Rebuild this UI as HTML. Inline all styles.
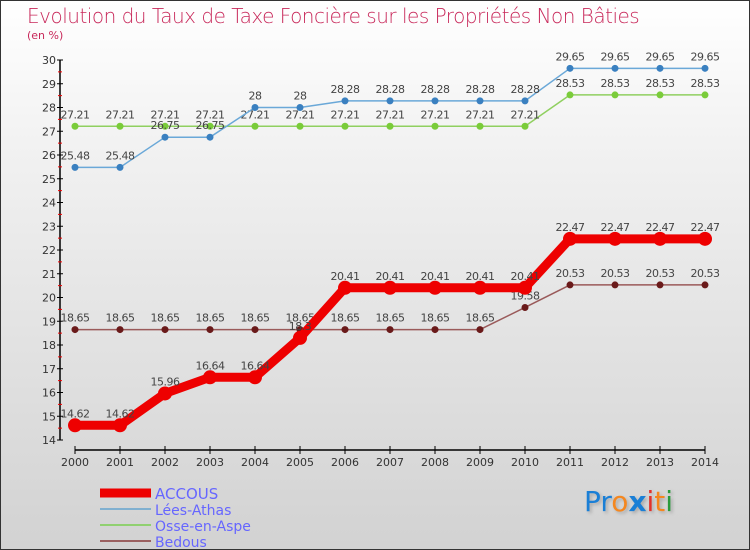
<!DOCTYPE html>
<html><head><meta charset="utf-8"><style>
body{margin:0;}
#wrap{position:relative;width:748px;height:548px;border:1px solid #333;background:linear-gradient(#fff 0%,#f0f0f0 30%,#d2d2d2 100%);font-family:"DejaVu Sans","Liberation Sans",sans-serif;overflow:hidden;}
.t{position:absolute;color:#c8285a;}
</style></head><body>
<div id="wrap">
<div class="t" style="left:26px;top:3px;font-size:20px;letter-spacing:-0.5px;font-weight:200">Evolution du Taux de Taxe Foncière sur les Propriétés Non Bâties</div>
<div class="t" style="left:26px;top:28px;font-size:11px">(en %)</div>
<svg id="svg" width="750" height="550" style="position:absolute;left:-1px;top:-1px"></svg>
<div style="position:absolute;left:583px;top:484px;font-size:28px;font-family:'DejaVu Sans',sans-serif;text-shadow:2px 2px 3px #aaa"><span style="color:#1a7fd6">Pr</span><span style="color:#f5871f">o</span><span style="color:#1a7fd6;font-weight:bold">x</span><span style="color:#e3302a">i</span><span style="color:#f5871f">t</span><span style="color:#2a9a3c">i</span></div>
</div>
<script>
const years=[2000,2001,2002,2003,2004,2005,2006,2007,2008,2009,2010,2011,2012,2013,2014];
const accous=[14.62,14.62,15.96,16.64,16.64,18.3,20.41,20.41,20.41,20.41,20.41,22.47,22.47,22.47,22.47];
const lees=[25.48,25.48,26.75,26.75,28,28,28.28,28.28,28.28,28.28,28.28,29.65,29.65,29.65,29.65];
const osse=[27.21,27.21,27.21,27.21,27.21,27.21,27.21,27.21,27.21,27.21,27.21,28.53,28.53,28.53,28.53];
const bedous=[18.65,18.65,18.65,18.65,18.65,18.65,18.65,18.65,18.65,18.65,19.58,20.53,20.53,20.53,20.53];
const yTicks=[14,15,16,17,18,19,20,21,22,23,24,25,26,27,28,29,30];
const svg=document.getElementById('svg');const NS='http://www.w3.org/2000/svg';
function X(i){return 75+i*45;}
function Y(v){return 440-(v-14)*23.75;}
function mk(t,a,p){const e=document.createElementNS(NS,t);for(const k in a)e.setAttribute(k,a[k]);(p||svg).appendChild(e);return e;}
// axes
const ya=mk('line',{x1:60,y1:Y(30),x2:60,y2:Y(14),stroke:'#000','stroke-width':1.5});


yTicks.forEach(v=>{mk('line',{x1:57,x2:63,y1:Y(v),y2:Y(v),stroke:'#000'});
const t=mk('text',{x:56,y:Y(v)+4,'text-anchor':'end','font-size':11,fill:'#333'});t.textContent=v;


if(v<30)mk('line',{x1:58,x2:62,y1:Y(v+0.5),y2:Y(v+0.5),stroke:'#e00'});});
const xa=mk('line',{x1:X(0),x2:X(14),y1:450,y2:450,stroke:'#000','stroke-width':1.5});


years.forEach((yr,i)=>{mk('line',{x1:X(i),x2:X(i),y1:446,y2:454,stroke:'#000'});
const t=mk('text',{x:X(i),y:466,'text-anchor':'middle','font-size':11,fill:'#333'});t.textContent=yr;

});
function series(data,color,lw,r,dot,name){
const g=mk('g',{});


mk('polyline',{points:data.map((v,i)=>X(i)+','+Y(v)).join(' '),fill:'none',stroke:color,'stroke-width':lw,'stroke-linejoin':'round'},g);
data.forEach((v,i)=>{const c=mk('circle',{cx:X(i),cy:Y(v),r:r,fill:dot},g);


const t=mk('text',{x:X(i),y:Y(v)-8,'text-anchor':'middle','font-size':11,fill:'#444','letter-spacing':'-0.5'},g);t.textContent=v;

});}
series(bedous,'#9a5a5a',1.5,3.5,'#6a1a1a','bedous');
series(osse,'#90d060',1.5,3.5,'#7acc3a','osse-en-aspe');
series(lees,'#6aa8d8',1.5,3.5,'#3a80c0','lees-athas');
series(accous,'#ee0000',9,7,'#ee0000','accous');
// legend
const leg=[['ACCOUS','#ee0000',9,15],['Lées-Athas','#80b0d0',2,14],['Osse-en-Aspe','#90d070',2,14],['Bedous','#9a6060',2,14]];
leg.forEach((l,i)=>{const y=493+i*16;
const g=mk('g',{});


mk('line',{x1:100,x2:151,y1:y,y2:y,stroke:l[1],'stroke-width':l[2]},g);
const t=mk('text',{x:155,y:y+6,'font-size':l[3],fill:'#6666ff'},g);t.textContent=l[0];});
</script>
</body></html>
